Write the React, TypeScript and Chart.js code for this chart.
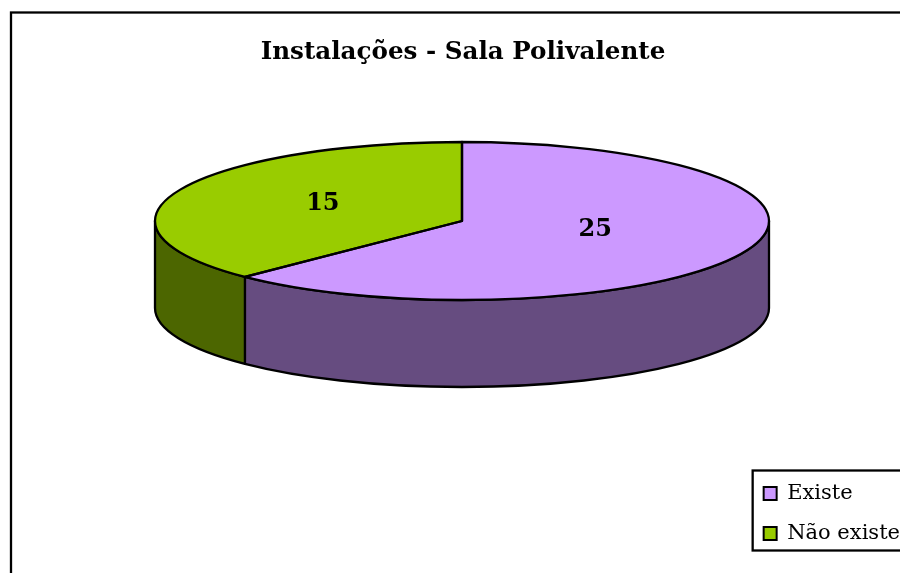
import React, { useEffect, useRef } from "react";
import { Chart, registerables } from "chart.js";

Chart.register(...registerables);

const categories = ["Existe", "Não existe"];
const values = [25, 15];
const titleText = "Instalações - Sala Polivalente";
const topColors = ["#CC99FF", "#99CC00"];
const sideColors = ["#664C80", "#4C6600"];

const CX = 462, CY = 221, RX = 307, RY = 79, DEPTH = 87;
const LINE = 2.3;

function norm(a: number) {
  let x = a;
  while (x < -Math.PI / 2 - 1e-6) x += 2 * Math.PI;
  return x;
}

const pie3d = {
  id: "pie3d",
  beforeDraw(chart: any) {
    const ctx = chart.ctx;
    ctx.save();
    ctx.fillStyle = "#fff";
    ctx.fillRect(0, 0, chart.width, chart.height);
    ctx.strokeStyle = "#000";
    ctx.lineWidth = LINE;
    ctx.strokeRect(11, 12.5, chart.width + 20, chart.height + 20);
    ctx.restore();
  },
  beforeDatasetsDraw(chart: any) {
    const ctx = chart.ctx;
    const arcs = chart.getDatasetMeta(0).data;
    // side walls: only the part of each slice facing the viewer
    arcs.forEach((arc: any, i: number) => {
      const s = Math.max(norm(arc.startAngle), 0);
      const e = Math.min(norm(arc.startAngle) + (arc.endAngle - arc.startAngle), Math.PI);
      if (e <= s) return;
      ctx.save();
      ctx.beginPath();
      ctx.ellipse(CX, CY, RX, RY, 0, s, e);
      ctx.lineTo(CX + RX * Math.cos(e), CY + RY * Math.sin(e) + DEPTH);
      ctx.ellipse(CX, CY + DEPTH, RX, RY, 0, e, s, true);
      ctx.closePath();
      ctx.fillStyle = sideColors[i];
      ctx.fill();
      ctx.strokeStyle = "#000";
      ctx.lineWidth = LINE;
      ctx.lineJoin = "round";
      ctx.stroke();
      ctx.restore();
    });
    // squash the library's circular arcs into the top ellipse
    const a = arcs[0];
    const k = a.outerRadius;
    ctx.save();
    ctx.translate(CX, CY);
    ctx.scale(RX / k, RY / k);
    ctx.translate(-a.x, -a.y);
  },
  afterDatasetsDraw(chart: any) {
    const ctx = chart.ctx;
    ctx.restore();
    const arcs = chart.getDatasetMeta(0).data;
    arcs.forEach((arc: any) => {
      ctx.save();
      ctx.beginPath();
      ctx.moveTo(CX, CY);
      ctx.ellipse(CX, CY, RX, RY, 0, arc.startAngle, arc.endAngle);
      ctx.closePath();
      ctx.strokeStyle = "#000";
      ctx.lineWidth = LINE;
      ctx.lineJoin = "round";
      ctx.stroke();
      ctx.restore();
    });
    // value labels
    arcs.forEach((arc: any, i: number) => {
      const m = (arc.startAngle + arc.endAngle) / 2;
      const x = CX - 3 + 0.48 * RX * Math.cos(m);
      const y = CY - 4 + 0.43 * RY * Math.sin(m);
      ctx.save();
      ctx.fillStyle = "#000";
      ctx.font = "bold 24px 'DejaVu Serif'";
      ctx.textAlign = "center";
      ctx.textBaseline = "middle";
      ctx.fillText(String(values[i]), x, y);
      ctx.restore();
    });
    // legend frame
    const l = chart.legend;
    const hb = l.legendHitBoxes;
    const top = hb[0].top + hb[0].height / 2 - 23;
    const bottom = hb[1].top + hb[1].height / 2 + 17;
    const left = hb[0].left - 11;
    ctx.save();
    ctx.strokeStyle = "#000";
    ctx.lineWidth = LINE;
    ctx.strokeRect(left, top, chart.width + 20 - left, bottom - top);
    ctx.restore();
  },
};

export default function App() {
  const ref = useRef<HTMLCanvasElement>(null);
  useEffect(() => {
    document.body.style.margin = "0";
    const chart = new Chart(ref.current as HTMLCanvasElement, {
      type: "pie",
      data: {
        labels: categories,
        datasets: [
          {
            data: values,
            backgroundColor: topColors,
            borderWidth: 0,
          },
        ],
      },
      options: {
        responsive: false,
        animation: false,
        layout: { padding: { left: 16, right: -10, top: 0, bottom: 10 } },
        plugins: {
          tooltip: { enabled: false },
          title: {
            display: true,
            text: titleText,
            color: "#000",
            font: { family: "'DejaVu Serif'", size: 24.6, weight: "bold", lineHeight: 1.2 },
            padding: { top: 38, bottom: 10 },
          },
          legend: {
            position: "right",
            align: "end",
            labels: {
              color: "#000",
              font: { family: "'DejaVu Serif'", size: 21 },
              boxWidth: 13,
              boxHeight: 13,
              padding: 19,
              generateLabels: () =>
                categories.map((c, i) => ({
                  text: c,
                  fillStyle: topColors[i],
                  strokeStyle: "#000",
                  lineWidth: 2,
                  hidden: false,
                  index: i,
                })),
            },
          },
        },
      },
      plugins: [pie3d],
    } as any);
    return () => chart.destroy();
  }, []);
  return <canvas ref={ref} width={900} height={573} style={{ display: "block" }} />;
}
